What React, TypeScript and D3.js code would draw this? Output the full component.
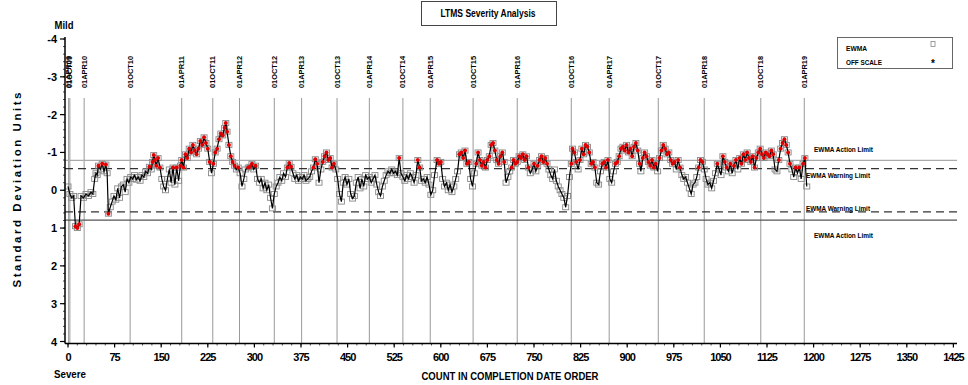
import React from "react";
import * as d3 from "d3";

const TITLE = "LTMS Severity Analysis";
const X_TICKS = [0, 75, 150, 225, 300, 375, 450, 525, 600, 675, 750, 825, 900, 975, 1050, 1125, 1200, 1275, 1350, 1425];
const Y_TICKS = [-4, -3, -2, -1, 0, 1, 2, 3, 4];
const DATE_COUNTS = [1, 3, 26, 100, 183, 233, 276, 332, 376, 433, 485, 539, 583, 652, 723, 810, 871, 950, 1024, 1115, 1185];
const DATE_LABELS = ["01APR09", "01OCT09", "01APR10", "01OCT10", "01APR11", "01OCT11", "01APR12", "01OCT12", "01APR13", "01OCT13", "01APR14", "01OCT14", "01APR15", "01OCT15", "01APR16", "01OCT16", "01APR17", "01OCT17", "01APR18", "01OCT18", "01APR19"];
const ACTION_LIMIT = 0.79;
const WARNING_LIMIT = 0.57;

const EWMA: [number, number][] = [
  [0, -0.1], [3, 0.1], [6, 0.2], [9, 0.15], [12, 0.95], [15, 1.0], [18, 0.9], [21, 0.15], [25, 0.2], [29, 0.1],
  [33, 0.15], [37, 0.05], [40, 0.1], [43, -0.3], [45, -0.45], [47, -0.4], [49, -0.65], [52, -0.55], [55, -0.7], [58, -0.5],
  [61, -0.68], [63, -0.45], [65, 0.62], [68, 0.45], [71, 0.3], [74, 0.15], [77, 0.25], [80, -0.05], [83, 0.2], [86, -0.1],
  [89, -0.15], [92, 0.05], [95, -0.3], [98, -0.2], [101, -0.35], [104, -0.3], [107, -0.4], [110, -0.28], [113, -0.35], [116, -0.25],
  [119, -0.4], [122, -0.35], [125, -0.5], [128, -0.45], [131, -0.62], [134, -0.55], [136, -0.75], [138, -0.93], [140, -0.8], [142, -0.65],
  [145, -0.85], [148, -0.6], [151, -0.3], [154, -0.1], [157, 0.0], [160, -0.3], [163, -0.55], [166, -0.2], [169, -0.6], [172, -0.15],
  [175, -0.6], [178, -0.25], [181, -0.65], [183, -0.8], [186, -0.6], [189, -0.95], [192, -0.85], [195, -1.1], [198, -1.0], [201, -1.2],
  [204, -1.05], [207, -0.95], [210, -1.1], [213, -1.3], [216, -1.2], [219, -1.4], [222, -1.25], [225, -1.1], [228, -0.75], [231, -0.45],
  [234, -0.7], [237, -1.0], [240, -1.1], [243, -1.35], [246, -1.5], [249, -1.45], [252, -1.65], [254, -1.78], [256, -1.55], [259, -1.2],
  [262, -0.9], [265, -0.75], [268, -0.65], [271, -0.55], [274, -0.6], [277, -0.45], [280, -0.1], [283, -0.3], [286, -0.55], [290, -0.6],
  [293, -0.62], [296, -0.7], [299, -0.55], [302, -0.65], [305, -0.3], [308, -0.2], [311, -0.3], [314, -0.05], [317, -0.2], [320, 0.0],
  [323, -0.15], [326, 0.2], [329, 0.48], [332, 0.1], [335, -0.1], [338, -0.2], [341, -0.35], [344, -0.25], [347, -0.45], [350, -0.35],
  [353, -0.6], [356, -0.72], [359, -0.62], [362, -0.45], [365, -0.3], [368, -0.4], [371, -0.25], [374, -0.35], [377, -0.3], [380, -0.4],
  [383, -0.25], [386, -0.3], [389, -0.35], [392, -0.5], [395, -0.6], [398, -0.82], [401, -0.7], [404, -0.2], [407, -0.55], [410, -0.75],
  [413, -0.9], [416, -1.0], [419, -0.8], [422, -0.85], [425, -0.6], [428, -0.7], [431, -0.55], [434, -0.3], [437, 0.1], [440, 0.3],
  [443, -0.2], [446, -0.35], [449, -0.15], [452, -0.3], [455, 0.1], [458, 0.22], [461, 0.15], [464, -0.2], [467, -0.35], [470, -0.05],
  [473, -0.3], [476, -0.1], [479, -0.4], [482, -0.3], [485, -0.35], [488, -0.2], [491, -0.3], [494, -0.4], [497, -0.15], [500, 0.05],
  [503, 0.15], [506, -0.1], [509, -0.25], [512, -0.4], [515, -0.5], [518, -0.45], [521, -0.55], [524, -0.45], [527, -0.5], [530, -0.4],
  [533, -0.85], [536, -0.45], [539, -0.35], [542, -0.25], [545, -0.4], [548, -0.3], [551, -0.45], [554, -0.35], [557, -0.2], [560, -0.4],
  [563, -0.8], [566, -0.6], [569, -0.25], [572, -0.3], [575, -0.2], [578, -0.35], [581, -0.15], [584, 0.12], [587, 0.0], [590, -0.4],
  [594, -0.8], [597, -0.7], [600, -0.75], [603, -0.3], [606, -0.1], [609, -0.2], [612, 0.0], [615, -0.15], [618, 0.05], [621, -0.1],
  [624, -0.3], [627, -0.5], [630, -0.95], [633, -1.0], [636, -0.85], [639, -1.05], [642, -0.7], [645, -0.75], [648, -0.3], [651, -0.1],
  [654, -0.45], [657, -0.7], [660, -1.0], [663, -0.8], [666, -0.65], [669, -0.75], [672, -0.6], [675, -0.8], [678, -0.9], [681, -1.2],
  [684, -1.25], [687, -1.05], [690, -0.8], [693, -0.7], [696, -0.9], [699, -1.0], [702, -0.75], [705, -0.2], [708, -0.35], [711, -0.5],
  [714, -0.6], [717, -0.8], [720, -0.7], [723, -0.75], [726, -0.9], [729, -0.85], [732, -0.95], [735, -0.8], [738, -0.9], [741, -0.6],
  [744, -0.45], [747, -0.55], [750, -0.7], [753, -0.5], [756, -0.65], [759, -0.8], [762, -0.9], [765, -0.75], [768, -0.85], [771, -0.7],
  [774, -0.55], [777, -0.4], [780, -0.3], [783, -0.55], [786, -0.25], [789, -0.1], [792, 0.0], [795, 0.1], [798, 0.2], [801, 0.45],
  [804, 0.15], [807, -0.35], [810, -0.7], [812, -1.1], [815, -1.0], [818, -0.75], [821, -0.55], [824, -0.8], [827, -1.1], [830, -0.95],
  [833, -1.2], [836, -1.15], [839, -1.0], [842, -0.7], [845, -0.75], [848, -0.6], [851, -0.2], [854, -0.15], [857, -0.5], [860, -0.7],
  [863, -0.75], [866, -0.6], [869, -0.8], [872, -0.3], [875, -0.2], [878, -0.5], [881, -0.7], [884, -0.75], [887, -0.9], [890, -1.1],
  [893, -1.15], [896, -1.05], [899, -1.2], [902, -1.0], [905, -1.1], [908, -0.9], [911, -1.15], [914, -1.25], [917, -1.05], [920, -0.7],
  [922, -0.5], [925, -0.85], [928, -1.0], [931, -0.9], [934, -0.75], [937, -0.65], [940, -0.8], [943, -0.6], [946, -0.7], [949, -0.5],
  [952, -0.85], [955, -1.05], [958, -1.2], [961, -1.1], [964, -0.95], [967, -1.0], [970, -0.8], [973, -0.7], [976, -0.75], [979, -0.55],
  [982, -0.8], [985, -0.6], [988, -0.4], [991, -0.3], [994, -0.35], [997, -0.2], [1000, -0.05], [1003, 0.1], [1006, -0.15], [1009, -0.2],
  [1012, -0.35], [1015, -0.6], [1018, -0.8], [1021, -0.75], [1024, -0.55], [1027, -0.3], [1030, -0.15], [1033, -0.2], [1036, -0.05], [1039, -0.25],
  [1042, -0.45], [1045, -0.7], [1048, -0.55], [1051, -0.4], [1054, -0.9], [1057, -0.75], [1060, -0.6], [1063, -0.5], [1066, -0.7], [1069, -0.45],
  [1072, -0.65], [1075, -0.8], [1078, -0.55], [1081, -0.85], [1084, -0.7], [1087, -0.95], [1090, -0.8], [1093, -1.0], [1096, -0.85], [1099, -0.75],
  [1102, -0.9], [1105, -0.6], [1108, -0.85], [1111, -1.0], [1114, -1.1], [1117, -0.95], [1120, -0.85], [1123, -1.0], [1126, -0.95], [1129, -0.9],
  [1132, -1.05], [1135, -0.95], [1138, -0.55], [1141, -0.5], [1144, -0.8], [1147, -1.1], [1150, -1.25], [1153, -1.35], [1156, -1.2], [1159, -1.0],
  [1162, -0.7], [1165, -0.55], [1168, -0.35], [1171, -0.6], [1174, -0.45], [1177, -0.6], [1180, -0.3], [1183, -0.7], [1186, -0.85], [1189, -0.1],
];

const FONT = "'Liberation Sans', Arial, sans-serif";

export default function App() {
  const W = 968, H = 385;
  const x = d3.scaleLinear().domain([0, 1425]).range([68, 953.4]);
  const y = d3.scaleLinear().domain([-4, 4]).range([39, 341.5]);
  const axisX = 65, axisY = 343.5, axisRight = 957, axisTop = 37;

  const line = d3.line<[number, number]>().x(d => x(d[0])).y(d => y(d[1]));
  const yMinor = d3.range(-4, 4.001, 0.2);
  const xMinor = d3.range(0, 1425.01, 15);

  const limits = [
    { v: -ACTION_LIMIT, dash: "", color: "#aaa", label: "EWMA Action Limit", lx: 814, ly: 149, w: 59 },
    { v: -WARNING_LIMIT, dash: "8,5", color: "#333", label: "EWMA Warning Limit", lx: 806, ly: 175, w: 64 },
    { v: WARNING_LIMIT, dash: "8,5", color: "#333", label: "EWMA Warning Limit", lx: 806, ly: 208.5, w: 64 },
    { v: ACTION_LIMIT, dash: "", color: "#555", label: "EWMA Action Limit", lx: 814, ly: 235, w: 59 },
  ];

  return (
    <svg width={W} height={H} style={{ position: "absolute", left: 0, top: 0, background: "#fff" }} fontFamily={FONT}>
      <rect x={0} y={0} width={W} height={H} fill="#fff" />
      {/* title */}
      <rect x={421.5} y={1.5} width={135} height={24} fill="#fff" stroke="#444" strokeWidth={1} />
      <text x={488} y={17} textAnchor="middle" fontSize={10} fontWeight="bold" textLength={95} lengthAdjust="spacingAndGlyphs">{TITLE}</text>

      {/* legend */}
      <rect x={837.5} y={37.5} width={115} height={31} fill="#fff" stroke="#666" strokeWidth={1} />
      <text x={846} y={50.5} fontSize={8} fontWeight="bold" textLength={21} lengthAdjust="spacingAndGlyphs">EWMA</text>
      <rect x={931} y={41.5} width={4} height={5} fill="none" stroke="#888" strokeWidth={0.8} />
      <text x={846} y={65} fontSize={8} fontWeight="bold" textLength={36} lengthAdjust="spacingAndGlyphs">OFF SCALE</text>
      <text x={933} y={67} fontSize={10} fontWeight="bold" textAnchor="middle">*</text>

      {/* date reference lines */}
      {DATE_COUNTS.map((c, i) => (
        <g key={"d" + i}>
          <line x1={x(c)} x2={x(c)} y1={98} y2={axisY} stroke="#999" strokeWidth={1} />
          <text transform={`translate(${x(c) + 2.5},88) rotate(-90)`} fontSize={7.5} fontWeight="bold" textLength={32} lengthAdjust="spacingAndGlyphs">{DATE_LABELS[i]}</text>
        </g>
      ))}

      {/* limit lines */}
      {limits.map((l, i) => (
        <g key={"l" + i}>
          <line x1={axisX} x2={axisRight} y1={y(l.v)} y2={y(l.v)} stroke={l.color} strokeWidth={1.2} strokeDasharray={l.dash} />
          <text x={l.lx} y={l.ly + 2.5} fontSize={7} fontWeight="bold" textLength={l.w} lengthAdjust="spacingAndGlyphs">{l.label}</text>
        </g>
      ))}

      {/* data */}
      <g>
        {EWMA.map((d, i) => (
          <rect key={"m" + i} x={x(d[0]) - 3} y={y(d[1]) - 2.5} width={6} height={5} fill="none" stroke="#888" strokeWidth={0.9} />
        ))}
        <path d={line(EWMA) || ""} fill="none" stroke="#000" strokeWidth={1.2} />
        {EWMA.filter(d => Math.abs(d[1]) > WARNING_LIMIT).map((d, i) => (
          <circle key={"r" + i} cx={x(d[0])} cy={y(d[1])} r={2} fill="#e00000" />
        ))}
      </g>

      {/* axes */}
      <line x1={axisX} x2={axisX} y1={axisTop} y2={axisY} stroke="#000" strokeWidth={1.5} />
      <line x1={axisX} x2={axisRight} y1={axisY} y2={axisY} stroke="#000" strokeWidth={1.5} />
      {yMinor.map((v, i) => (
        <line key={"ym" + i} x1={axisX - 2} x2={axisX} y1={y(v)} y2={y(v)} stroke="#000" strokeWidth={0.7} />
      ))}
      {Y_TICKS.map(v => (
        <g key={"yt" + v}>
          <line x1={axisX - 5} x2={axisX} y1={y(v)} y2={y(v)} stroke="#000" strokeWidth={1.2} />
          <text x={57} y={y(v) + 4} textAnchor="end" fontSize={11} fontWeight="bold">{v === 0 ? "0" : String(v)}</text>
        </g>
      ))}
      {xMinor.map((v, i) => (
        <line key={"xm" + i} x1={x(v)} x2={x(v)} y1={axisY} y2={axisY + 2} stroke="#000" strokeWidth={0.7} />
      ))}
      {X_TICKS.map(v => (
        <g key={"xt" + v}>
          <line x1={x(v)} x2={x(v)} y1={axisY} y2={axisY + 4} stroke="#000" strokeWidth={1.2} />
          <text x={x(v)} y={361} textAnchor="middle" fontSize={11} fontWeight="bold" letterSpacing={-1}>{v}</text>
        </g>
      ))}

      {/* axis titles */}
      <text x={64} y={29} textAnchor="middle" fontSize={10.5} fontWeight="bold" textLength={19} lengthAdjust="spacingAndGlyphs">Mild</text>
      <text x={70} y={378} textAnchor="middle" fontSize={10.5} fontWeight="bold" textLength={32} lengthAdjust="spacingAndGlyphs">Severe</text>
      <text x={510} y={380} textAnchor="middle" fontSize={10.5} fontWeight="bold" textLength={177} lengthAdjust="spacingAndGlyphs">COUNT IN COMPLETION DATE ORDER</text>
      <text transform="translate(21,190) rotate(-90)" textAnchor="middle" fontSize={11.5} fontWeight="bold" textLength={195} lengthAdjust="spacing">Standard Deviation Units</text>
    </svg>
  );
}
